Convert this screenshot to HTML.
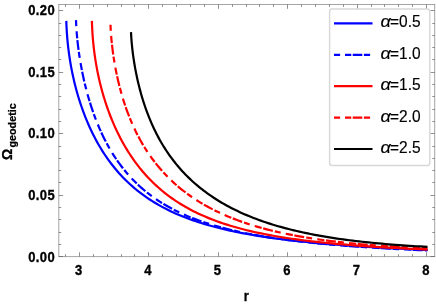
<!DOCTYPE html>
<html><head><meta charset="utf-8"><title>plot</title>
<style>
html,body{margin:0;padding:0;background:#fff;}
body{width:436px;height:305px;position:relative;overflow:hidden;font-family:"Liberation Sans",sans-serif;}
text{font-family:"Liberation Sans",sans-serif;fill:#000;}
.tk{font-size:13px;font-weight:bold;stroke:#000;stroke-width:0.3px;}
.lg{font-weight:normal;font-size:15.5px;stroke:#000;stroke-width:0.15px;}
.yl{letter-spacing:0.4px;}
.ax{font-size:14px;font-weight:bold;stroke:#000;stroke-width:0.3px;}
.sub{font-size:10.8px;font-weight:bold;stroke:#000;stroke-width:0.25px;}
</style></head><body>
<svg width="436" height="305" viewBox="0 0 436 305" style="position:absolute;left:0;top:0;will-change:transform">
<rect x="0" y="0" width="436" height="305" fill="#fff"/>
<path d="M66.30,20.90 L66.40,23.88 L66.53,26.84 L66.69,29.79 L66.87,32.73 L67.08,35.66 L67.32,38.57 L67.58,41.49 L67.88,44.39 L68.20,47.28 L68.55,50.17 L68.92,53.05 L69.33,55.92 L69.76,58.78 L70.22,61.64 L70.70,64.49 L71.21,67.33 L71.76,70.16 L72.32,72.99 L72.92,75.80 L73.54,78.61 L74.19,81.41 L74.87,84.19 L75.58,86.97 L76.31,89.73 L77.07,92.48 L77.86,95.22 L78.67,97.94 L79.52,100.65 L80.39,103.34 L81.29,106.02 L82.21,108.68 L83.16,111.32 L84.14,113.95 L85.15,116.55 L86.19,119.14 L87.25,121.70 L88.34,124.24 L89.46,126.76 L90.60,129.26 L91.78,131.73 L92.98,134.18 L94.20,136.60 L95.46,138.99 L96.74,141.36 L98.05,143.71 L99.39,146.02 L100.75,148.31 L102.15,150.57 L103.57,152.80 L105.01,155.00 L106.49,157.17 L107.99,159.31 L109.52,161.41 L111.08,163.49 L112.66,165.54 L114.27,167.55 L115.91,169.54 L117.58,171.49 L119.28,173.41 L121.00,175.29 L122.75,177.15 L124.53,178.97 L126.33,180.76 L128.16,182.52 L130.02,184.25 L131.91,185.94 L133.82,187.60 L135.77,189.23 L137.73,190.83 L139.73,192.40 L141.76,193.93 L143.81,195.44 L145.89,196.91 L147.99,198.35 L150.13,199.76 L152.29,201.15 L154.48,202.50 L156.70,203.82 L158.94,205.12 L161.21,206.38 L163.51,207.62 L165.84,208.83 L168.19,210.01 L170.57,211.16 L172.98,212.29 L175.42,213.39 L177.88,214.47 L180.38,215.52 L182.89,216.54 L185.44,217.54 L188.01,218.52 L190.62,219.47 L193.24,220.40 L195.90,221.30 L198.58,222.19 L201.30,223.05 L204.03,223.89 L206.80,224.71 L209.59,225.51 L212.42,226.29 L215.26,227.05 L218.14,227.79 L221.04,228.51 L223.98,229.21 L226.93,229.90 L229.92,230.57 L232.93,231.22 L235.98,231.85 L239.04,232.47 L242.14,233.07 L245.26,233.66 L248.41,234.23 L251.59,234.79 L254.80,235.33 L258.03,235.86 L261.29,236.38 L264.58,236.88 L267.90,237.37 L271.24,237.85 L274.61,238.32 L278.01,238.77 L281.43,239.21 L284.89,239.64 L288.37,240.06 L291.88,240.48 L295.41,240.88 L298.97,241.27 L302.57,241.65 L306.18,242.02 L309.83,242.38 L313.50,242.74 L317.20,243.08 L320.93,243.42 L324.69,243.75 L328.47,244.07 L332.28,244.38 L336.12,244.69 L339.98,244.99 L343.87,245.28 L347.79,245.57 L351.74,245.85 L355.72,246.12 L359.72,246.39 L363.75,246.65 L367.81,246.91 L371.89,247.16 L376.01,247.40 L380.15,247.64 L384.31,247.88 L388.51,248.11 L392.73,248.33 L396.98,248.55 L401.26,248.77 L405.56,248.98 L409.90,249.19 L414.26,249.39 L418.64,249.59 L423.06,249.78 L427.50,249.97" fill="none" stroke="#0000ff" stroke-width="2.2" stroke-linejoin="round"/>
<path d="M76.00,20.10 L76.10,22.66 L76.23,25.26 L76.38,27.90 L76.56,30.57 L76.76,33.27 L77.00,36.00 L77.26,38.75 L77.54,41.54 L77.86,44.34 L78.20,47.16 L78.56,50.01 L78.96,52.86 L79.38,55.73 L79.83,58.62 L80.30,61.51 L80.80,64.41 L81.33,67.31 L81.88,70.22 L82.46,73.12 L83.07,76.03 L83.70,78.93 L84.36,81.83 L85.05,84.72 L85.76,87.61 L86.51,90.48 L87.27,93.34 L88.07,96.19 L88.89,99.02 L89.74,101.84 L90.61,104.64 L91.51,107.42 L92.44,110.18 L93.39,112.92 L94.38,115.64 L95.38,118.34 L96.42,121.00 L97.48,123.65 L98.57,126.26 L99.68,128.85 L100.83,131.41 L101.99,133.94 L103.19,136.44 L104.41,138.91 L105.66,141.35 L106.94,143.76 L108.24,146.14 L109.57,148.48 L110.92,150.79 L112.30,153.06 L113.71,155.31 L115.15,157.51 L116.61,159.69 L118.10,161.83 L119.62,163.93 L121.16,166.00 L122.73,168.04 L124.32,170.04 L125.95,172.00 L127.60,173.93 L129.27,175.83 L130.98,177.69 L132.71,179.52 L134.46,181.31 L136.24,183.07 L138.05,184.80 L139.89,186.49 L141.75,188.15 L143.64,189.77 L145.56,191.37 L147.50,192.93 L149.47,194.46 L151.47,195.95 L153.50,197.42 L155.55,198.85 L157.62,200.25 L159.73,201.63 L161.86,202.97 L164.01,204.28 L166.20,205.57 L168.41,206.82 L170.65,208.05 L172.91,209.25 L175.20,210.42 L177.52,211.57 L179.86,212.69 L182.23,213.78 L184.63,214.85 L187.06,215.90 L189.51,216.91 L191.99,217.91 L194.49,218.88 L197.02,219.83 L199.58,220.75 L202.16,221.66 L204.78,222.54 L207.41,223.40 L210.08,224.24 L212.77,225.06 L215.49,225.86 L218.23,226.64 L221.01,227.40 L223.81,228.14 L226.63,228.87 L229.48,229.57 L232.36,230.26 L235.27,230.93 L238.20,231.59 L241.16,232.23 L244.14,232.85 L247.16,233.46 L250.20,234.05 L253.26,234.63 L256.35,235.19 L259.47,235.74 L262.62,236.27 L265.79,236.80 L268.99,237.31 L272.22,237.80 L275.47,238.29 L278.75,238.76 L282.06,239.22 L285.39,239.67 L288.75,240.11 L292.14,240.53 L295.55,240.95 L298.99,241.36 L302.46,241.75 L305.95,242.14 L309.47,242.52 L313.02,242.89 L316.59,243.24 L320.19,243.59 L323.82,243.94 L327.47,244.27 L331.15,244.59 L334.86,244.91 L338.59,245.22 L342.35,245.52 L346.14,245.82 L349.95,246.10 L353.80,246.39 L357.66,246.66 L361.56,246.93 L365.48,247.19 L369.43,247.44 L373.40,247.69 L377.40,247.93 L381.43,248.17 L385.48,248.40 L389.57,248.63 L393.67,248.85 L397.81,249.06 L401.97,249.27 L406.16,249.48 L410.37,249.68 L414.61,249.87 L418.88,250.07 L423.18,250.25 L427.50,250.43" fill="none" stroke="#0000ff" stroke-width="2.2" stroke-dasharray="6.0 5.2 7.2 1.6 9.95 2.05" stroke-linejoin="round"/>
<path d="M91.90,20.90 L92.00,23.88 L92.12,26.84 L92.27,29.77 L92.44,32.69 L92.64,35.58 L92.86,38.46 L93.11,41.31 L93.39,44.16 L93.69,46.98 L94.02,49.80 L94.37,52.60 L94.75,55.39 L95.15,58.16 L95.58,60.92 L96.03,63.68 L96.51,66.42 L97.01,69.15 L97.54,71.87 L98.10,74.58 L98.68,77.27 L99.29,79.96 L99.92,82.64 L100.58,85.30 L101.26,87.95 L101.97,90.59 L102.70,93.22 L103.46,95.84 L104.25,98.44 L105.06,101.03 L105.90,103.61 L106.76,106.17 L107.64,108.71 L108.56,111.25 L109.50,113.76 L110.46,116.26 L111.45,118.74 L112.46,121.20 L113.50,123.65 L114.57,126.07 L115.66,128.48 L116.78,130.86 L117.92,133.23 L119.09,135.57 L120.28,137.90 L121.50,140.20 L122.74,142.47 L124.01,144.73 L125.31,146.95 L126.63,149.16 L127.97,151.34 L129.34,153.49 L130.74,155.62 L132.16,157.72 L133.61,159.80 L135.08,161.85 L136.58,163.87 L138.11,165.86 L139.66,167.83 L141.23,169.76 L142.83,171.67 L144.46,173.55 L146.11,175.41 L147.79,177.23 L149.49,179.02 L151.22,180.79 L152.97,182.52 L154.75,184.23 L156.56,185.90 L158.39,187.55 L160.24,189.17 L162.13,190.76 L164.03,192.31 L165.96,193.84 L167.92,195.34 L169.91,196.82 L171.91,198.26 L173.95,199.67 L176.01,201.06 L178.09,202.42 L180.20,203.75 L182.34,205.05 L184.50,206.32 L186.69,207.57 L188.90,208.79 L191.14,209.99 L193.40,211.15 L195.69,212.29 L198.01,213.41 L200.35,214.50 L202.71,215.57 L205.10,216.61 L207.52,217.62 L209.96,218.62 L212.43,219.58 L214.92,220.53 L217.44,221.45 L219.99,222.35 L222.56,223.23 L225.15,224.09 L227.77,224.92 L230.42,225.74 L233.09,226.53 L235.79,227.31 L238.51,228.06 L241.26,228.80 L244.03,229.52 L246.83,230.21 L249.65,230.90 L252.50,231.56 L255.38,232.20 L258.28,232.83 L261.21,233.44 L264.16,234.04 L267.13,234.62 L270.14,235.19 L273.17,235.74 L276.22,236.27 L279.30,236.79 L282.40,237.30 L285.53,237.79 L288.69,238.27 L291.87,238.74 L295.08,239.20 L298.31,239.64 L301.57,240.07 L304.85,240.49 L308.16,240.90 L311.49,241.29 L314.85,241.68 L318.24,242.06 L321.65,242.42 L325.09,242.78 L328.55,243.12 L332.04,243.46 L335.55,243.79 L339.09,244.11 L342.65,244.42 L346.24,244.72 L349.85,245.02 L353.49,245.30 L357.16,245.58 L360.85,245.85 L364.57,246.12 L368.31,246.38 L372.08,246.63 L375.87,246.87 L379.69,247.11 L383.53,247.34 L387.40,247.57 L391.30,247.79 L395.22,248.00 L399.16,248.21 L403.14,248.41 L407.13,248.61 L411.16,248.81 L415.20,249.00 L419.28,249.18 L423.38,249.36 L427.50,249.54" fill="none" stroke="#ff0000" stroke-width="2.2" stroke-linejoin="round"/>
<path d="M110.50,24.70 L110.59,26.99 L110.71,29.33 L110.85,31.71 L111.02,34.12 L111.21,36.57 L111.42,39.05 L111.66,41.56 L111.92,44.10 L112.21,46.65 L112.52,49.23 L112.85,51.82 L113.21,54.42 L113.59,57.04 L114.00,59.67 L114.43,62.30 L114.89,64.93 L115.36,67.57 L115.87,70.21 L116.39,72.85 L116.94,75.49 L117.52,78.12 L118.12,80.74 L118.74,83.36 L119.39,85.96 L120.06,88.56 L120.75,91.14 L121.47,93.72 L122.22,96.27 L122.98,98.82 L123.77,101.34 L124.59,103.85 L125.43,106.35 L126.29,108.82 L127.18,111.27 L128.09,113.71 L129.03,116.12 L129.99,118.52 L130.97,120.89 L131.98,123.24 L133.01,125.56 L134.07,127.87 L135.15,130.15 L136.25,132.41 L137.38,134.64 L138.53,136.85 L139.71,139.04 L140.91,141.20 L142.13,143.33 L143.38,145.44 L144.65,147.53 L145.95,149.59 L147.27,151.63 L148.61,153.64 L149.98,155.62 L151.37,157.58 L152.79,159.52 L154.23,161.42 L155.69,163.31 L157.18,165.17 L158.69,167.00 L160.23,168.81 L161.79,170.59 L163.38,172.35 L164.99,174.08 L166.62,175.79 L168.28,177.47 L169.96,179.12 L171.66,180.76 L173.39,182.36 L175.14,183.95 L176.92,185.51 L178.72,187.04 L180.55,188.55 L182.40,190.04 L184.27,191.50 L186.17,192.94 L188.09,194.35 L190.04,195.74 L192.01,197.11 L194.00,198.45 L196.02,199.78 L198.06,201.07 L200.12,202.35 L202.21,203.60 L204.33,204.83 L206.47,206.04 L208.63,207.23 L210.81,208.39 L213.02,209.53 L215.26,210.66 L217.52,211.76 L219.80,212.83 L222.11,213.89 L224.44,214.93 L226.79,215.94 L229.17,216.94 L231.57,217.92 L234.00,218.87 L236.45,219.81 L238.92,220.72 L241.42,221.62 L243.95,222.50 L246.49,223.36 L249.06,224.20 L251.66,225.02 L254.28,225.82 L256.92,226.61 L259.59,227.38 L262.28,228.12 L264.99,228.86 L267.73,229.57 L270.50,230.27 L273.28,230.95 L276.10,231.62 L278.93,232.27 L281.79,232.90 L284.67,233.52 L287.58,234.12 L290.51,234.70 L293.47,235.28 L296.45,235.83 L299.45,236.38 L302.48,236.90 L305.53,237.42 L308.61,237.92 L311.71,238.40 L314.83,238.88 L317.98,239.34 L321.15,239.78 L324.35,240.22 L327.57,240.64 L330.81,241.05 L334.08,241.45 L337.37,241.84 L340.69,242.21 L344.03,242.57 L347.40,242.93 L350.78,243.27 L354.20,243.60 L357.63,243.92 L361.09,244.23 L364.58,244.53 L368.09,244.83 L371.62,245.11 L375.18,245.38 L378.76,245.65 L382.36,245.90 L385.99,246.15 L389.65,246.38 L393.32,246.61 L397.02,246.84 L400.75,247.05 L404.50,247.25 L408.27,247.45 L412.07,247.64 L415.89,247.83 L419.74,248.00 L423.61,248.17 L427.50,248.33" fill="none" stroke="#ff0000" stroke-width="2.2" stroke-dasharray="6.0 5.2 7.2 1.6 9.95 2.05" stroke-linejoin="round"/>
<path d="M131.00,32.11 L131.09,34.08 L131.20,36.11 L131.34,38.19 L131.50,40.31 L131.68,42.47 L131.88,44.67 L132.10,46.90 L132.35,49.17 L132.62,51.46 L132.91,53.78 L133.23,56.12 L133.57,58.48 L133.93,60.86 L134.31,63.25 L134.71,65.65 L135.14,68.07 L135.59,70.49 L136.06,72.91 L136.56,75.34 L137.07,77.77 L137.61,80.20 L138.17,82.63 L138.76,85.06 L139.37,87.48 L139.99,89.89 L140.65,92.30 L141.32,94.70 L142.02,97.08 L142.74,99.46 L143.48,101.82 L144.24,104.17 L145.03,106.51 L145.84,108.83 L146.67,111.14 L147.52,113.43 L148.40,115.70 L149.30,117.95 L150.22,120.19 L151.16,122.40 L152.13,124.60 L153.12,126.78 L154.13,128.94 L155.16,131.07 L156.22,133.19 L157.30,135.29 L158.40,137.36 L159.52,139.41 L160.67,141.44 L161.84,143.45 L163.03,145.44 L164.24,147.40 L165.48,149.34 L166.74,151.26 L168.02,153.16 L169.32,155.03 L170.65,156.88 L171.99,158.71 L173.36,160.52 L174.76,162.30 L176.17,164.07 L177.61,165.80 L179.07,167.52 L180.55,169.21 L182.06,170.89 L183.59,172.54 L185.14,174.16 L186.71,175.77 L188.31,177.35 L189.92,178.91 L191.56,180.45 L193.23,181.97 L194.91,183.46 L196.62,184.94 L198.35,186.39 L200.10,187.82 L201.88,189.23 L203.67,190.62 L205.49,191.99 L207.34,193.33 L209.20,194.66 L211.09,195.97 L213.00,197.25 L214.93,198.51 L216.88,199.76 L218.86,200.98 L220.86,202.19 L222.88,203.37 L224.93,204.53 L226.99,205.68 L229.08,206.80 L231.20,207.91 L233.33,209.00 L235.49,210.07 L237.67,211.11 L239.87,212.14 L242.09,213.16 L244.34,214.15 L246.61,215.12 L248.90,216.08 L251.21,217.02 L253.55,217.94 L255.91,218.84 L258.29,219.73 L260.69,220.59 L263.12,221.45 L265.57,222.28 L268.04,223.10 L270.53,223.90 L273.05,224.68 L275.59,225.45 L278.15,226.20 L280.73,226.93 L283.34,227.65 L285.97,228.35 L288.62,229.04 L291.29,229.72 L293.99,230.37 L296.71,231.01 L299.45,231.64 L302.21,232.26 L305.00,232.85 L307.80,233.44 L310.64,234.01 L313.49,234.57 L316.36,235.11 L319.26,235.64 L322.18,236.16 L325.13,236.66 L328.09,237.15 L331.08,237.63 L334.09,238.09 L337.12,238.55 L340.18,238.99 L343.26,239.42 L346.36,239.83 L349.48,240.24 L352.62,240.63 L355.79,241.02 L358.98,241.39 L362.19,241.75 L365.43,242.11 L368.69,242.45 L371.97,242.78 L375.27,243.10 L378.59,243.41 L381.94,243.71 L385.31,244.01 L388.70,244.29 L392.12,244.56 L395.55,244.83 L399.01,245.09 L402.50,245.34 L406.00,245.58 L409.53,245.81 L413.08,246.03 L416.65,246.25 L420.24,246.46 L423.86,246.66 L427.50,246.85" fill="none" stroke="#000000" stroke-width="2.2" stroke-linejoin="round"/>
<path d="M58.3,4.5 H435.2 M58.3,256.6 H435.2 M58.8,4.5 V256.6 M434.7,4.5 V256.6" fill="none" stroke="#666666" stroke-width="0.6"/>
<path d="M65.5,256.6 v-2.4 M65.5,4.5 v2.4 M79.5,256.6 v-4.3 M79.5,4.5 v4.3 M93.5,256.6 v-2.4 M93.5,4.5 v2.4 M107.5,256.6 v-2.4 M107.5,4.5 v2.4 M121.5,256.6 v-2.4 M121.5,4.5 v2.4 M134.5,256.6 v-2.4 M134.5,4.5 v2.4 M148.5,256.6 v-4.3 M148.5,4.5 v4.3 M162.5,256.6 v-2.4 M162.5,4.5 v2.4 M176.5,256.6 v-2.4 M176.5,4.5 v2.4 M190.5,256.6 v-2.4 M190.5,4.5 v2.4 M204.5,256.6 v-2.4 M204.5,4.5 v2.4 M218.5,256.6 v-4.3 M218.5,4.5 v4.3 M232.5,256.6 v-2.4 M232.5,4.5 v2.4 M246.5,256.6 v-2.4 M246.5,4.5 v2.4 M259.5,256.6 v-2.4 M259.5,4.5 v2.4 M273.5,256.6 v-2.4 M273.5,4.5 v2.4 M287.5,256.6 v-4.3 M287.5,4.5 v4.3 M301.5,256.6 v-2.4 M301.5,4.5 v2.4 M315.5,256.6 v-2.4 M315.5,4.5 v2.4 M329.5,256.6 v-2.4 M329.5,4.5 v2.4 M343.5,256.6 v-2.4 M343.5,4.5 v2.4 M357.5,256.6 v-4.3 M357.5,4.5 v4.3 M371.5,256.6 v-2.4 M371.5,4.5 v2.4 M384.5,256.6 v-2.4 M384.5,4.5 v2.4 M398.5,256.6 v-2.4 M398.5,4.5 v2.4 M412.5,256.6 v-2.4 M412.5,4.5 v2.4 M426.5,256.6 v-4.3 M426.5,4.5 v4.3 M58.8,256.5 h4.3 M434.7,256.5 h-4.3 M58.8,244.5 h2.4 M434.7,244.5 h-2.4 M58.8,232.5 h2.4 M434.7,232.5 h-2.4 M58.8,219.5 h2.4 M434.7,219.5 h-2.4 M58.8,207.5 h2.4 M434.7,207.5 h-2.4 M58.8,195.5 h4.3 M434.7,195.5 h-4.3 M58.8,182.5 h2.4 M434.7,182.5 h-2.4 M58.8,170.5 h2.4 M434.7,170.5 h-2.4 M58.8,158.5 h2.4 M434.7,158.5 h-2.4 M58.8,146.5 h2.4 M434.7,146.5 h-2.4 M58.8,133.5 h4.3 M434.7,133.5 h-4.3 M58.8,121.5 h2.4 M434.7,121.5 h-2.4 M58.8,109.5 h2.4 M434.7,109.5 h-2.4 M58.8,96.5 h2.4 M434.7,96.5 h-2.4 M58.8,84.5 h2.4 M434.7,84.5 h-2.4 M58.8,72.5 h4.3 M434.7,72.5 h-4.3 M58.8,59.5 h2.4 M434.7,59.5 h-2.4 M58.8,47.5 h2.4 M434.7,47.5 h-2.4 M58.8,35.5 h2.4 M434.7,35.5 h-2.4 M58.8,23.5 h2.4 M434.7,23.5 h-2.4 M58.8,10.5 h4.3 M434.7,10.5 h-4.3" fill="none" stroke="#606060" stroke-width="0.7"/>
<rect x="329.6" y="9.0" width="100.19999999999999" height="156.5" rx="2.5" fill="#fff" stroke="#d8d8d8" stroke-width="1.4"/>
<path d="M334,23.4 H372.5" stroke="#0000ff" stroke-width="2.2" fill="none"/>
<text transform="translate(380.40,27.40) scale(1.17,1.12)" text-anchor="start" class="lg" font-style="italic">α</text>
<text transform="translate(390.00,27.40) scale(1.0,1.12)" text-anchor="start" class="lg">=0.5</text>
<path d="M334,54.8 H340.1 M345,54.8 H351.3 M352.7,54.8 H362.3 M363.9,54.8 H370.1" stroke="#0000ff" stroke-width="2.2" fill="none"/>
<text transform="translate(380.40,58.80) scale(1.17,1.12)" text-anchor="start" class="lg" font-style="italic">α</text>
<text transform="translate(390.00,58.80) scale(1.0,1.12)" text-anchor="start" class="lg">=1.0</text>
<path d="M334,86.2 H372.5" stroke="#ff0000" stroke-width="2.2" fill="none"/>
<text transform="translate(380.40,90.20) scale(1.17,1.12)" text-anchor="start" class="lg" font-style="italic">α</text>
<text transform="translate(390.00,90.20) scale(1.0,1.12)" text-anchor="start" class="lg">=1.5</text>
<path d="M334,117.6 H340.1 M345,117.6 H351.3 M352.7,117.6 H362.3 M363.9,117.6 H370.1" stroke="#ff0000" stroke-width="2.2" fill="none"/>
<text transform="translate(380.40,121.60) scale(1.17,1.12)" text-anchor="start" class="lg" font-style="italic">α</text>
<text transform="translate(390.00,121.60) scale(1.0,1.12)" text-anchor="start" class="lg">=2.0</text>
<path d="M334,149.0 H372.5" stroke="#000000" stroke-width="2.2" fill="none"/>
<text transform="translate(380.40,153.00) scale(1.17,1.12)" text-anchor="start" class="lg" font-style="italic">α</text>
<text transform="translate(390.00,153.00) scale(1.0,1.12)" text-anchor="start" class="lg">=2.5</text>
<text transform="translate(78.50,274.50) scale(1.0,1.17)" text-anchor="middle" class="tk">3</text>
<text transform="translate(147.96,274.50) scale(1.0,1.17)" text-anchor="middle" class="tk">4</text>
<text transform="translate(217.42,274.50) scale(1.0,1.17)" text-anchor="middle" class="tk">5</text>
<text transform="translate(286.88,274.50) scale(1.0,1.17)" text-anchor="middle" class="tk">6</text>
<text transform="translate(356.34,274.50) scale(1.0,1.17)" text-anchor="middle" class="tk">7</text>
<text transform="translate(425.80,274.50) scale(1.0,1.17)" text-anchor="middle" class="tk">8</text>
<text transform="translate(55.10,261.50) scale(1.0,1.17)" text-anchor="end" class="tk yl">0.00</text>
<text transform="translate(55.10,199.88) scale(1.0,1.17)" text-anchor="end" class="tk yl">0.05</text>
<text transform="translate(55.10,138.25) scale(1.0,1.17)" text-anchor="end" class="tk yl">0.10</text>
<text transform="translate(55.10,76.62) scale(1.0,1.17)" text-anchor="end" class="tk yl">0.15</text>
<text transform="translate(55.10,15.00) scale(1.0,1.17)" text-anchor="end" class="tk yl">0.20</text>
<text transform="translate(246.20,300.60) scale(1.0,1.17)" text-anchor="middle" class="tk">r</text>
<text transform="translate(12.10,159.90) scale(1.0,1.0) rotate(-90)" text-anchor="start" class="ax">Ω</text>
<text transform="translate(15.50,147.60) scale(1.0,1.0) rotate(-90)" text-anchor="start" class="sub">geodetic</text>
</svg>
</body></html>
